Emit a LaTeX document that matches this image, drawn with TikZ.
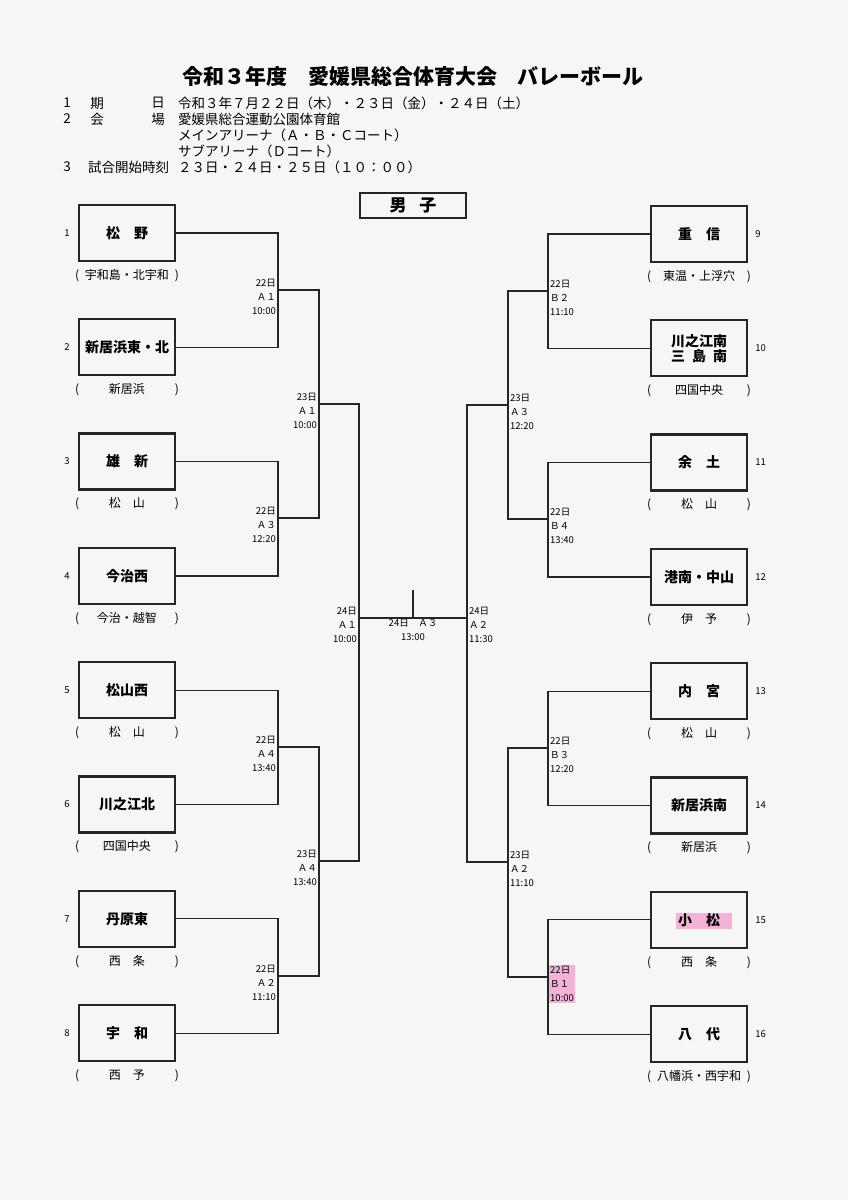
\documentclass[tikz,border=0pt]{standalone}
\usepackage{fontspec}
\setmainfont{Noto Sans CJK JP}
\usepackage{tikz}
\usetikzlibrary{positioning}
\definecolor{paper}{RGB}{246,246,244}
\definecolor{ink}{RGB}{38,38,38}
\definecolor{hl}{RGB}{244,178,216}
\tikzset{
  school/.style = {rectangle, draw=ink, line width=2.3pt, minimum width=96pt, minimum height=56pt, align=center, font=\fontsize{14}{15}\selectfont\bfseries, label distance=0pt},
  num_l/.style = {font=\fontsize{9.5}{9.5}\selectfont, inner sep=1pt, xshift=-7pt},
  num_r/.style = {font=\fontsize{9.5}{9.5}\selectfont, inner sep=1pt, xshift=6pt},
  area/.style = {font=\fontsize{12}{12}\selectfont, text width=104pt, inner sep=0pt, text height=9pt, text depth=2.5pt, yshift=-8pt},
  game_l/.style = {font=\fontsize{9.5}{14}\selectfont, align=right, anchor=north east, inner sep=1pt, xshift=-1pt, yshift=12pt},
  game_r/.style = {font=\fontsize{9.5}{14}\selectfont, align=left, anchor=north west, inner sep=1pt, xshift=1pt, yshift=12pt},
  head/.style = {font=\fontsize{13.5}{14}\selectfont, inner sep=0pt},
  wire/.style = {draw=ink, line width=1.2pt}
}
\begin{document}
\begin{tikzpicture}[x=1pt, y=-1pt, node distance=56pt]
    \fill[paper] (0,0) rectangle (848,1200);
    \useasboundingbox (0,0) rectangle (848,1200);
    \fill[hl] (676,913) rectangle (732,929);

    % header
    \node[font=\fontsize{21}{21}\selectfont\bfseries] (title) at (413,77) {令和３年度　愛媛県総合体育大会　バレーボール};
    \node[head] (h1n) at (67,103) {1};
    \node[head] (h1a) at (97,103) {期};
    \node[head] (h1b) at (158,103) {日};
    \node[head, anchor=west] (h1c) at (178,103) {令和３年７月２２日（木）・２３日（金）・２４日（土）};
    \node[head] (h2n) at (67,119) {2};
    \node[head] (h2a) at (97,119) {会};
    \node[head] (h2b) at (158,119) {場};
    \node[head, anchor=west] (h2c) at (178,119) {愛媛県総合運動公園体育館};
    \node[head, anchor=west] (h3c) at (178,135) {メインアリーナ（Ａ・Ｂ・Ｃコート）};
    \node[head, anchor=west] (h4c) at (178,151) {サブアリーナ（Ｄコート）};
    \node[head] (h5n) at (67,167) {3};
    \node[head, anchor=west] (h5a) at (88,167) {試合開始時刻};
    \node[head, anchor=west] (h5c) at (178,167) {２３日・２４日・２５日（１０：００）};
    \node[draw=ink, line width=2pt, minimum width=106pt, minimum height=25pt, font=\fontsize{17}{17}\selectfont\bfseries] (boys) at (413,205) {男\hspace{0.75em}子};

    % left side
    \node[school, label={[num_l]left:1}, label={[area]below:{(\hfill 宇和島・北宇和\hfill)}}] (t1) at (127,233) {松　野};
    \node[school, below=of t1, label={[num_l]left:2}, label={[area]below:{(\hfill 新居浜\hfill)}}] (t2) {新居浜東・北};
    \node[school, below=of t2, label={[num_l]left:3}, label={[area]below:{(\hfill 松　山\hfill)}}] (t3) {雄　新};
    \node[school, below=of t3, label={[num_l]left:4}, label={[area]below:{(\hfill 今治・越智\hfill)}}] (t4) {今治西};
    \node[school, below=of t4, label={[num_l]left:5}, label={[area]below:{(\hfill 松　山\hfill)}}] (t5) {松山西};
    \node[school, below=of t5, label={[num_l]left:6}, label={[area]below:{(\hfill 四国中央\hfill)}}] (t6) {川之江北};
    \node[school, below=of t6, label={[num_l]left:7}, label={[area]below:{(\hfill 西　条\hfill)}}] (t7) {丹原東};
    \node[school, below=of t7, label={[num_l]left:8}, label={[area]below:{(\hfill 西　予\hfill)}}] (t8) {宇　和};

    % right side
    \node[school, label={[num_r]right:9}, label={[area]below:{(\hfill 東温・上浮穴\hfill)}}] (t9) at (699,234) {重　信};
    \node[school, below=of t9, label={[num_r]right:10}, label={[area]below:{(\hfill 四国中央\hfill)}}] (t10) {川之江南\\三\hspace{0.5em}島\hspace{0.5em}南};
    \node[school, below=of t10, label={[num_r]right:11}, label={[area]below:{(\hfill 松　山\hfill)}}] (t11) {余　土};
    \node[school, below=of t11, label={[num_r]right:12}, label={[area]below:{(\hfill 伊　予\hfill)}}] (t12) {港南・中山};
    \node[school, below=of t12, label={[num_r]right:13}, label={[area]below:{(\hfill 松　山\hfill)}}] (t13) {内　宮};
    \node[school, below=of t13, label={[num_r]right:14}, label={[area]below:{(\hfill 新居浜\hfill)}}] (t14) {新居浜南};
    \node[school, below=of t14, label={[num_r]right:15}, label={[area]below:{(\hfill 西　条\hfill)}}] (t15) {小　松};
    \node[school, below=of t15, label={[num_r]right:16}, label={[area]below:{(\hfill 八幡浜・西宇和\hfill)}}] (t16) {八　代};

    % joints
    \coordinate (m12) at (278,290);
    \coordinate (m34) at (278,518);
    \coordinate (m56) at (278,747);
    \coordinate (m78) at (278,976);
    \coordinate (q14) at (319,404);
    \coordinate (q58) at (319,861);
    \coordinate (s18) at (359,618);
    \coordinate (m910) at (548,291);
    \coordinate (m1112) at (548,519);
    \coordinate (m1314) at (548,748);
    \coordinate (m1516) at (548,977);
    \coordinate (q912) at (508,405);
    \coordinate (q1316) at (508,862);
    \coordinate (s916) at (467,618);
    \coordinate (fin) at (413,618);
    \coordinate (fintop) at (413,590);

    % bracket
    \draw[wire] (t1.east) -| (m12) |- (t2.east);
    \draw[wire] (t3.east) -| (m34) |- (t4.east);
    \draw[wire] (t5.east) -| (m56) |- (t6.east);
    \draw[wire] (t7.east) -| (m78) |- (t8.east);
    \draw[wire] (m12) -| (q14) |- (m34);
    \draw[wire] (m56) -| (q58) |- (m78);
    \draw[wire] (q14) -| (s18) |- (q58);
    \draw[wire] (t9.west) -| (m910) |- (t10.west);
    \draw[wire] (t11.west) -| (m1112) |- (t12.west);
    \draw[wire] (t13.west) -| (m1314) |- (t14.west);
    \draw[wire] (t15.west) -| (m1516) |- (t16.west);
    \draw[wire] (m910) -| (q912) |- (m1112);
    \draw[wire] (m1314) -| (q1316) |- (m1516);
    \draw[wire] (q912) -| (s916) |- (q1316);
    \draw[wire] (s18) -- (s916);
    \draw[wire] (fin) -- (fintop);

    % games
    \node[game_l] (g12) at (m12) {22日\\Ａ１\\10:00};
    \node[game_l] (g34) at (m34) {22日\\Ａ３\\12:20};
    \node[game_l] (g56) at (m56) {22日\\Ａ４\\13:40};
    \node[game_l] (g78) at (m78) {22日\\Ａ２\\11:10};
    \node[game_l] (g14) at (q14) {23日\\Ａ１\\10:00};
    \node[game_l] (g58) at (q58) {23日\\Ａ４\\13:40};
    \node[game_l] (g18) at (s18) {24日\\Ａ１\\10:00};
    \node[game_r] (g910) at (m910) {22日\\Ｂ２\\11:10};
    \node[game_r] (g1112) at (m1112) {22日\\Ｂ４\\13:40};
    \node[game_r] (g1314) at (m1314) {22日\\Ｂ３\\12:20};
    \node[game_r, fill=hl] (g1516) at (m1516) {22日\\Ｂ１\\10:00};
    \node[game_r] (g912) at (q912) {23日\\Ａ３\\12:20};
    \node[game_r] (g1316) at (q1316) {23日\\Ａ２\\11:10};
    \node[game_r] (g916) at (s916) {24日\\Ａ２\\11:30};
    \node[font=\fontsize{9.5}{14}\selectfont, align=center, anchor=north, inner sep=1pt] (gfin) at (fin) {24日　Ａ３\\13:00};
\end{tikzpicture}
\end{document}
